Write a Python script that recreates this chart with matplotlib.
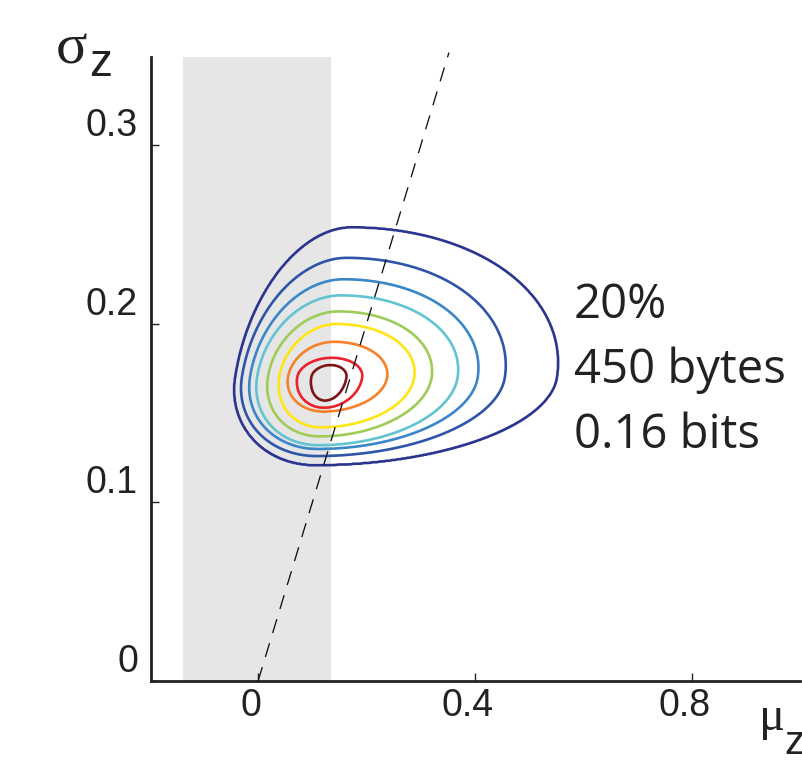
import numpy as np
import matplotlib
matplotlib.use("Agg")
import matplotlib.pyplot as plt

# ---- data -------------------------------------------------------------
x_ticks = [0, 0.4, 0.8]
x_tick_labels = ["0", "0.4", "0.8"]
y_ticks = [0, 0.1, 0.2, 0.3]
y_tick_labels = ["0", "0.1", "0.2", "0.3"]

# Excluded band on mu_z
band_lo, band_hi = -0.138, 0.135

# Density contours (outer -> inner): extents of each level set
level_left = [-0.042, -0.030, -0.015, -0.002, 0.018, 0.039, 0.055, 0.072, 0.098]
level_right = [0.551, 0.455, 0.405, 0.368, 0.320, 0.288, 0.238, 0.192, 0.163]
level_bottom = [0.121, 0.126, 0.130, 0.132, 0.137, 0.142, 0.151, 0.153, 0.157]
level_top = [0.254, 0.237, 0.225, 0.216, 0.207, 0.200, 0.190, 0.181, 0.177]
level_colors = ["#2b3590", "#2f55a8", "#3a86c8", "#62c4d0", "#9fcb58",
                "#ffe514", "#f5822a", "#e8232b", "#7c1418"]
peak_mu, peak_sigma = 0.13, 0.170
skew = 0.5

annotation = ["20%", "450 bytes", "0.16 bits"]

# ---- figure -------------------------------------------------------------
W, H = 803, 764
fig = plt.figure(figsize=(W / 100, H / 100), dpi=100)
ax_l, ax_r, ax_t, ax_b = 151, 800, 57, 681
ax = fig.add_axes([ax_l / W, 1 - ax_b / H, (ax_r - ax_l) / W, (ax_b - ax_t) / H])
ax.set_xlim(-0.1975, 0.9995)
ax.set_ylim(0, 0.3495)

for s in ["top", "right"]:
    ax.spines[s].set_visible(False)
for s in ["left", "bottom"]:
    ax.spines[s].set_linewidth(2.0)
    ax.spines[s].set_color("#222222")

ax.axvspan(band_lo, band_hi, color="#e6e6e6", lw=0, zorder=0)

# density field whose level sets pass through the measured extents
gx = np.linspace(-0.1, 0.65, 700)
gy = np.linspace(0.08, 0.29, 500)
X, Y = np.meshgrid(gx, gy)
u = X - skew * (Y - peak_sigma) - peak_mu
v = Y - peak_sigma
logd = []
for lft, rgt, bot, top in zip(level_left, level_right, level_bottom, level_top):
    a = np.where(u >= 0, rgt - peak_mu, peak_mu - lft)
    b = np.where(v >= 0, top - peak_sigma, peak_sigma - bot)
    logd.append(np.log(np.sqrt((u / a) ** 2 + (v / b) ** 2) + 1e-9))
F = 1 - np.clip(logd[0], 0, 1)
for k in range(len(logd) - 1):
    F = F + np.clip(-logd[k] / (logd[k + 1] - logd[k] + 1e-12), 0, 1)
F = F + np.clip(-logd[-1], 0, 1)
levels = np.arange(1, len(level_colors) + 1)
ax.contour(X, Y, F, levels=levels, colors=level_colors, linewidths=1.9, zorder=2)

# mu_z = sigma_z reference line
ax.plot([0, 0.352], [0, 0.352], color="#111111", lw=0.95,
        dashes=(11, 8), clip_on=False, zorder=3)

# ticks (inward) with labels placed by hand
ax.set_xticks(x_ticks)
ax.set_yticks(y_ticks)
ax.set_xticklabels([])
ax.set_yticklabels([])
ax.tick_params(direction="in", length=6, width=1.0, color="#222222")

lab_font = dict(family="Liberation Sans", size=27, color="#222222")
for xv, lab in zip(x_ticks, x_tick_labels):
    xd, _ = ax.transData.transform((xv, 0))
    fig.text((xd - 7) / W, 1 - 706 / H, lab, ha="center", va="center", **lab_font)
for yv, lab in zip(y_ticks, y_tick_labels):
    _, yd = ax.transData.transform((0, yv))
    fig.text(138 / W, (yd + 19) / H, lab, ha="right", va="center", **lab_font)

# axis labels
fig.text(71 / W, 1 - 63 / H, "σ", ha="center", va="baseline",
         family="Liberation Serif", size=42, color="#222222")
fig.text(89 / W, 1 - 76 / H, "z", ha="left", va="baseline",
         family="Liberation Sans", size=33, color="#222222")
fig.text(772 / W, 1 - 730 / H, "μ", ha="center", va="baseline",
         family="Liberation Serif", size=35, color="#222222")
fig.text(784 / W, 1 - 754 / H, "z", ha="left", va="baseline",
         family="Liberation Sans", size=29, color="#222222")

# annotation
for i, line in enumerate(annotation):
    fig.text(574 / W, 1 - (305 + 65 * i) / H, line, ha="left", va="center",
             family="Open Sans", size=34, color="#222222")

fig.savefig("out.png", dpi=100)
